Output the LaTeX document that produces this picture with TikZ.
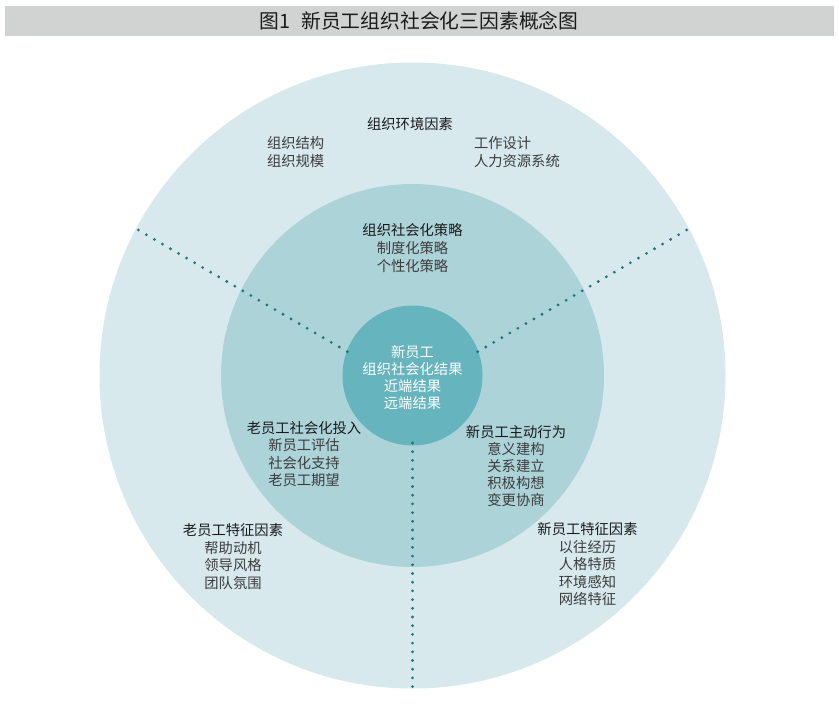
\documentclass[tikz,border=0pt]{standalone}
\usepackage{fontspec}
\setmainfont{Noto Sans CJK SC}
\definecolor{barcol}{HTML}{D1D3D2}
\definecolor{outercol}{HTML}{D7E9EC}
\definecolor{midcol}{HTML}{ACD3D8}
\definecolor{innercol}{HTML}{66B4BE}
\definecolor{dotcol}{HTML}{1A767A}
\definecolor{headcol}{HTML}{1A1A1A}
\definecolor{itemcol}{HTML}{3C3C3C}
\tikzset{
  ring/.style={circle, inner sep=0pt, outer sep=0pt, draw=none},
  dotline/.style={dotcol, line width=3.1pt, line cap=round, dash pattern=on 0pt off 9.3pt},
  dotlinev/.style={dotcol, line width=3.1pt, line cap=round, dash pattern=on 0pt off 8.7pt},
  lbl/.style={inner sep=0pt, outer sep=0pt, align=center, font=\fontsize{14.3pt}{17.5pt}\selectfont, text=itemcol},
  lblL/.style={inner sep=0pt, outer sep=0pt, align=left, font=\fontsize{14.3pt}{18pt}\selectfont, text=itemcol},
  whitelbl/.style={inner sep=0pt, outer sep=0pt, align=center, font=\fontsize{14.3pt}{17pt}\selectfont, text=white},
}
\newcommand{\hd}[1]{\textcolor{headcol}{#1}}
\begin{document}
\begin{tikzpicture}[x=1pt,y=-1pt]
\useasboundingbox (0,0) rectangle (839,706);
\fill[white] (0,0) rectangle (839,706);
% title bar
\node[fill=barcol, minimum width=829pt, minimum height=30pt, inner sep=0pt, anchor=north west] (bar) at (5,6) {};
\node[inner sep=0pt, font=\fontsize{19.8pt}{22pt}\selectfont, text=headcol] (title) at (419,21) {图1\hspace{0.55em}新员工组织社会化三因素概念图};
% circles
\coordinate (O) at (412.5,375.5);
\node[ring, fill=outercol, minimum size=626pt] (outer) at (O) {};
\node[ring, fill=midcol, minimum size=383pt] (middle) at (O) {};
\node[ring, fill=innercol, minimum size=140pt] (inner) at (O) {};
% dotted dividers
\coordinate (ulS) at (347.3,351.7);
\coordinate (ulE) at (138.3,230);
\coordinate (urS) at (477.7,351.7);
\coordinate (urE) at (686.7,230);
\coordinate (bS) at (412.5,443);
\coordinate (bE) at (412.5,687);
\draw[dotline] (ulS) -- (ulE);
\draw[dotline] (urS) -- (urE);
\draw[dotlinev] (bS) -- (bE);
% outer ring texts
\node[lbl] (env) at (410,124) {\hd{组织环境因素}};
\node[lblL, anchor=west] (envL) at (267,152) {组织结构\\组织规模};
\node[lblL, anchor=west] (envR) at (474,152) {工作设计\\人力资源系统};
\node[lbl] (oldc) at (233,556.5) {\hd{老员工特征因素}\\帮助动机\\领导风格\\团队氛围};
\node[lbl] (newc) at (587.5,564.5) {\hd{新员工特征因素}\\以往经历\\人格特质\\环境感知\\网络特征};
% middle ring texts
\node[lbl, font=\fontsize{14.3pt}{18pt}\selectfont] (strat) at (412.5,248) {\hd{组织社会化策略}\\制度化策略\\个性化策略};
\node[lbl] (oldin) at (304,454) {\hd{老员工社会化投入}\\新员工评估\\社会化支持\\老员工期望};
\node[lbl, font=\fontsize{14.3pt}{17pt}\selectfont] (newb) at (516,466) {\hd{新员工主动行为}\\意义建构\\关系建立\\积极构想\\变更协商};
% inner text
\node[whitelbl] (res) at (412.5,377.5) {新员工\\组织社会化结果\\近端结果\\远端结果};
\end{tikzpicture}
\end{document}
